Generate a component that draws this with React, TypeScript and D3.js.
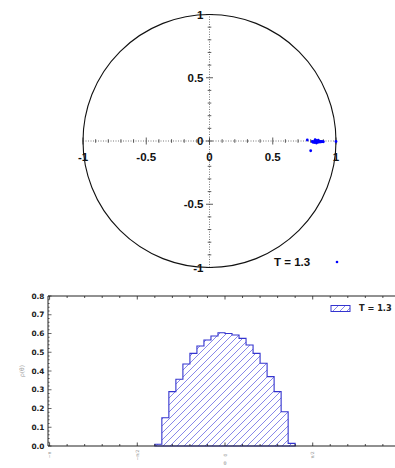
import React from "react";
import * as d3 from "d3";

// Scatter of order-parameter points inside the unit circle
const pointX = [0.773, 0.800, 0.812, 0.818, 0.824, 0.830, 0.836, 0.842, 0.848, 0.852, 0.858, 0.863, 0.868, 0.874, 0.880, 0.887, 0.893, 0.900, 0.845, 0.860, 0.835, 1.0];
const pointY = [0.008, -0.077, -0.004, -0.010, -0.006, -0.012, 0.002, 0.004, -0.008, -0.003, -0.010, -0.002, -0.006, -0.008, -0.004, -0.006, -0.005, -0.006, -0.016, 0.006, 0.010, -0.004];
const circleTicks = [-1, -0.5, 0, 0.5, 1];
const circleTickLabels = ["-1", "-0.5", "0", "0.5", "1"];
const scatterLabel = "T = 1.3";

// Angular density histogram, bins of width 2π/50 starting at -0.4π
const binCount = 50;
const binStartIndex = -10;
const density = [0.009, 0.151, 0.29, 0.356, 0.437, 0.494, 0.533, 0.565, 0.587, 0.604, 0.600, 0.592, 0.574, 0.539, 0.494, 0.441, 0.370, 0.290, 0.183, 0.014];
const yTicks = [0, 0.1, 0.2, 0.3, 0.4, 0.5, 0.6, 0.7, 0.8];
const xTickValues = [-Math.PI, -Math.PI / 2, 0, Math.PI / 2];
const xTickLabels = ["−π", "−π/2", "0", "π/2"];
const histLabel = "T = 1.3";

const W = 395;
const H = 468;

export default function App() {
  // Unit-circle panel
  const cx = d3.scaleLinear().domain([-1, 1]).range([83, 336]);
  const cy = d3.scaleLinear().domain([-1, 1]).range([267.5, 14.5]);
  const r = (cx(1) - cx(-1)) / 2;
  const minorC = d3.range(-1, 1.0001, 0.1).map((v) => Math.round(v * 10) / 10);

  // Histogram panel
  const hx = d3.scaleLinear().domain([-3.17, 3.17]).range([48, 402]);
  const hy = d3.scaleLinear().domain([0, 0.8]).range([446, 296]);
  const bw = (2 * Math.PI) / binCount;
  const edges = density.map((_, i) => (binStartIndex + i) * bw);
  let path = `M${hx(edges[0])},${hy(0)}`;
  density.forEach((v, i) => {
    path += `L${hx(edges[i])},${hy(v)}L${hx(edges[i] + bw)},${hy(v)}`;
  });
  path += `L${hx(edges[edges.length - 1] + bw)},${hy(0)}Z`;
  const xMinor = d3.range(-10, 11).map((k) => (k * Math.PI) / 10);
  const yMinor = d3.range(0, 41).map((k) => k * 0.02);

  const boldSans = "'Liberation Sans', Arial, sans-serif";
  const mplFont = "'DejaVu Sans', sans-serif";
  const blue = "#3434cf";
  const hatch = "#7a7ae6";

  return (
    <div style={{ position: "absolute", left: 0, top: 0 }}>
      <svg width={W} height={H} style={{ display: "block", background: "#fff" }}>
        <defs>
          <pattern id="hatch" patternUnits="userSpaceOnUse" width={7} height={7}>
            <path d="M-1,1 l2,-2 M0,7 l7,-7 M6,8 l2,-2" stroke={hatch} strokeWidth={0.9} />
          </pattern>
          <clipPath id="histClip">
            <rect x={48} y={290} width={W - 48} height={160} />
          </clipPath>
        </defs>

        {/* ---------- unit circle ---------- */}
        <g>
          <line x1={cx(-1)} x2={cx(1)} y1={cy(0)} y2={cy(0)} stroke="#555" strokeWidth={0.8} strokeDasharray="1,1.5" />
          <line x1={cx(0)} x2={cx(0)} y1={cy(-1)} y2={cy(1)} stroke="#555" strokeWidth={0.8} strokeDasharray="1,1.5" />
          {minorC.map((v) => {
            const major = Math.abs(v * 2 - Math.round(v * 2)) < 1e-6;
            const len = major ? 3.5 : 1.8;
            return (
              <g key={"t" + v} stroke="#333" strokeWidth={0.8}>
                <line x1={cx(v)} x2={cx(v)} y1={cy(0) - len} y2={cy(0) + len} />
                <line x1={cx(0) - len} x2={cx(0) + len} y1={cy(v)} y2={cy(v)} />
              </g>
            );
          })}
          <circle cx={cx(0)} cy={cy(0)} r={r} fill="none" stroke="#111" strokeWidth={1.1} />
          {circleTicks.map((v, i) => (
            <text key={"xl" + v} x={cx(v)} y={cy(0) + 20} textAnchor="middle" fontFamily={boldSans} fontWeight="bold" fontSize={11.5} fill="#111">
              {circleTickLabels[i]}
            </text>
          ))}
          {circleTicks.map((v, i) => (
            <text key={"yl" + v} x={cx(0) - 6} y={cy(v)} dy="0.36em" textAnchor="end" fontFamily={boldSans} fontWeight="bold" fontSize={11.5} fill="#111">
              {circleTickLabels[i]}
            </text>
          ))}
          {pointX.map((v, i) => (
            <circle key={"p" + i} cx={cx(v)} cy={cy(pointY[i])} r={1.4} fill="#0000ff" />
          ))}
          <text x={274} y={262} dy="0.36em" fontFamily={boldSans} fontWeight="bold" fontSize={11.5} fill="#111">
            {scatterLabel}
          </text>
          <circle cx={337} cy={262} r={1.3} fill="#0000ff" />
        </g>

        {/* ---------- angular histogram ---------- */}
        <g>
          <g clipPath="url(#histClip)">
            <path d={path} fill="url(#hatch)" stroke="none" />
            <path d={path} fill="none" stroke={blue} strokeWidth={1.1} />
          </g>
          {/* spines */}
          <line x1={48} x2={W} y1={hy(0.8)} y2={hy(0.8)} stroke="#222" strokeWidth={1} />
          <line x1={48} x2={W} y1={hy(0)} y2={hy(0)} stroke="#222" strokeWidth={1.2} />
          <line x1={48} x2={48} y1={hy(0.8)} y2={hy(0)} stroke="#222" strokeWidth={1} />
          {/* x ticks, inward on bottom and top */}
          {xMinor.map((v, i) => {
            const major = i % 5 === 0;
            const len = major ? 3.5 : 2;
            const x = hx(v);
            if (x < 48 || x > W) return null;
            return (
              <g key={"xm" + i} stroke="#222" strokeWidth={0.8}>
                <line x1={x} x2={x} y1={hy(0)} y2={hy(0) - len} />
                <line x1={x} x2={x} y1={hy(0.8)} y2={hy(0.8) + len} />
              </g>
            );
          })}
          {/* y ticks */}
          {yMinor.map((v, i) => {
            const major = i % 5 === 0;
            const len = major ? 3.5 : 1.6;
            return <line key={"ym" + i} x1={48} x2={48 + len} y1={hy(v)} y2={hy(v)} stroke="#222" strokeWidth={0.7} />;
          })}
          {yTicks.map((v) => (
            <text key={"yt" + v} x={44.5} y={hy(v)} dy="0.36em" textAnchor="end" fontFamily={mplFont} fontWeight="bold" fontSize={7.4} fill="#222">
              {v.toFixed(1)}
            </text>
          ))}
          {xTickValues.map((v, i) => (
            <text key={"xt" + i} transform={`translate(${hx(v) + 1.5},${455}) rotate(-90)`} textAnchor="middle" fontFamily={mplFont} fontSize={4.5} fill="#999">
              {xTickLabels[i]}
            </text>
          ))}
          <text x={hx(0)} y={465} textAnchor="middle" fontFamily={mplFont} fontSize={5} fill="#999">θ</text>
          <text transform={`translate(${24},${371}) rotate(-90)`} textAnchor="middle" fontFamily={mplFont} fontSize={6} fill="#999">ρ(θ)</text>
          {/* legend */}
          <rect x={331} y={305.5} width={19} height={6} fill="url(#hatch)" stroke={blue} strokeWidth={1} />
          <text x={359} y={308.5} dy="0.36em" fontFamily={mplFont} fontWeight="bold" fontSize={8.2} fill="#222">
            {histLabel}
          </text>
        </g>
      </svg>
    </div>
  );
}
